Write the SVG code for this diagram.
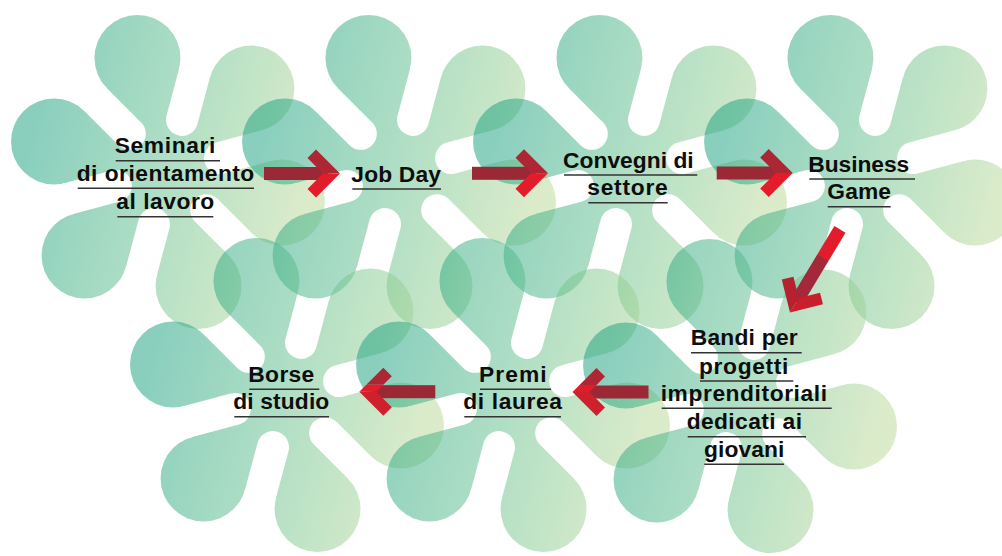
<svg xmlns="http://www.w3.org/2000/svg" width="1002" height="556" viewBox="0 0 1002 556">
<style>
.lbl{font-family:"Liberation Sans",Arial,sans-serif;font-weight:700;font-size:22.8px;fill:#0d0d0d;}
.ul{stroke:#333;stroke-width:1.4;fill:none;}
.petals{fill:url(#fg);fill-opacity:0.5;}
.sh{fill:#9a2935;}
.ua{fill:#ad2634;}
.br{fill:#e31c2b;}
.md{fill:#cf202e;}
</style>
<defs>
<linearGradient id="fg" x1="0" y1="0.37" x2="1" y2="0.63">
<stop offset="0.08" stop-color="#159f7d"/>
<stop offset="0.5" stop-color="#63bf8b"/>
<stop offset="0.92" stop-color="#b7d895"/>
</linearGradient>
<linearGradient id="diagShaft" gradientUnits="userSpaceOnUse" x1="-97" y1="0" x2="-12" y2="0">
<stop offset="0.39" stop-color="#e31c2b"/>
<stop offset="0.39" stop-color="#a3283a"/>
</linearGradient>
<mask id="fm" maskUnits="userSpaceOnUse" x="-175" y="-175" width="350" height="350">
<g fill="#fff">
<polygon points="-113.98,-30.54 -30.54,-113.98 83.44,-83.44 113.98,30.54 30.54,113.98 -83.44,83.44"/>
<circle cx="-113.98" cy="-30.54" r="43"/>
<circle cx="-30.54" cy="-113.98" r="43"/>
<circle cx="83.44" cy="-83.44" r="43"/>
<circle cx="113.98" cy="30.54" r="43"/>
<circle cx="30.54" cy="113.98" r="43"/>
<circle cx="-83.44" cy="83.44" r="43"/>
</g>
<g stroke="#000" stroke-width="32" stroke-linecap="round">
<line x1="-38.18" y1="-38.18" x2="-141.4" y2="-141.4"/>
<line x1="13.98" y1="-52.16" x2="51.76" y2="-193.2"/>
<line x1="52.16" y1="-13.98" x2="193.2" y2="-51.76"/>
<line x1="38.18" y1="38.18" x2="141.4" y2="141.4"/>
<line x1="-13.98" y1="52.16" x2="-51.76" y2="193.2"/>
<line x1="-52.16" y1="13.98" x2="-193.2" y2="51.76"/>
</g>
</mask>
</defs>
<rect width="1002" height="556" fill="#fff"/>
<g id="background">
<g transform="translate(168,172)"><rect class="petals" x="-162" y="-162" width="324" height="324" mask="url(#fm)"/></g>
<g transform="translate(399,172)"><rect class="petals" x="-162" y="-162" width="324" height="324" mask="url(#fm)"/></g>
<g transform="translate(630,172)"><rect class="petals" x="-162" y="-162" width="324" height="324" mask="url(#fm)"/></g>
<g transform="translate(861,172)"><rect class="petals" x="-162" y="-162" width="324" height="324" mask="url(#fm)"/></g>
<g transform="translate(287,395)"><rect class="petals" x="-162" y="-162" width="324" height="324" mask="url(#fm)"/></g>
<g transform="translate(513,395)"><rect class="petals" x="-162" y="-162" width="324" height="324" mask="url(#fm)"/></g>
<g transform="translate(740,396)"><rect class="petals" x="-162" y="-162" width="324" height="324" mask="url(#fm)"/></g>
</g>
<g id="connectors">
<g id="arrow-seminari-jobday" transform="translate(340,173.5)">
<rect class="sh" x="-76" y="-6.5" width="64" height="13"/>
<polygon class="ua" points="0,0 -24,-24 -32.5,-15.5 -17,0"/>
<polygon class="br" points="0,0 -17,0 -32.5,15.5 -24,24"/>
</g>
<g id="arrow-jobday-convegni" transform="translate(548,173.3)">
<rect class="sh" x="-76" y="-6.5" width="64" height="13"/>
<polygon class="ua" points="0,0 -24,-24 -32.5,-15.5 -17,0"/>
<polygon class="br" points="0,0 -17,0 -32.5,15.5 -24,24"/>
</g>
<g id="arrow-convegni-business" transform="translate(792.7,173)">
<rect class="sh" x="-76" y="-6.5" width="64" height="13"/>
<polygon class="ua" points="0,0 -24,-24 -32.5,-15.5 -17,0"/>
<polygon class="br" points="0,0 -17,0 -32.5,15.5 -24,24"/>
</g>
<g id="arrow-business-bandi" transform="translate(790,312.5) rotate(121)">
<rect x="-97" y="-6.5" width="85" height="13" fill="url(#diagShaft)"/>
<polygon fill="#c91f2d" points="0,0 -24,-24 -32.5,-15.5 -17,0"/>
<polygon fill="#b5212f" points="0,0 -17,0 -32.5,15.5 -24,24"/>
</g>
<g id="arrow-bandi-premi" transform="translate(572.5,392) scale(-1,1)">
<rect class="sh" x="-76" y="-6.5" width="64" height="13"/>
<polygon class="ua" points="-7,-7 -24,-24 -32.5,-15.5 -24,-7"/>
<polygon class="br" points="0,0 -7,-7 -24,-7 -17,0"/>
<polygon class="md" points="0,0 -17,0 -32.5,15.5 -24,24"/>
</g>
<g id="arrow-premi-borse" transform="translate(359.3,391.7) scale(-1,1)">
<rect class="sh" x="-76" y="-6.5" width="64" height="13"/>
<polygon class="ua" points="-7,-7 -24,-24 -32.5,-15.5 -24,-7"/>
<polygon class="br" points="0,0 -7,-7 -24,-7 -17,0"/>
<polygon class="md" points="0,0 -17,0 -32.5,15.5 -24,24"/>
</g>
</g>
<g id="node-seminari">
<text class="lbl" x="114.7" y="153.3" textLength="100.6" lengthAdjust="spacing">Seminari</text>
<text class="lbl" x="76.7" y="180.9" textLength="177.6" lengthAdjust="spacing">di orientamento</text>
<text class="lbl" x="116.3" y="209.3" textLength="98" lengthAdjust="spacing">al lavoro</text>
<line class="ul" x1="115.7" y1="160.7" x2="220" y2="160.7"/>
<line class="ul" x1="77.7" y1="188.3" x2="254" y2="188.3"/>
<line class="ul" x1="117.3" y1="216.7" x2="213.3" y2="216.7"/>
</g>
<g id="node-jobday">
<text class="lbl" x="351.3" y="181.6" textLength="89.7" lengthAdjust="spacing">Job Day</text>
<line class="ul" x1="352.3" y1="189" x2="441" y2="189"/>
</g>
<g id="node-convegni">
<text class="lbl" x="563" y="167.6" textLength="130.7" lengthAdjust="spacing">Convegni di</text>
<text class="lbl" x="587.3" y="195.3" textLength="80.4" lengthAdjust="spacing">settore</text>
<line class="ul" x1="564" y1="175" x2="697.3" y2="175"/>
<line class="ul" x1="588.3" y1="202.7" x2="667.7" y2="202.7"/>
</g>
<g id="node-business">
<text class="lbl" x="808.3" y="171.6" textLength="101" lengthAdjust="spacing">Business</text>
<text class="lbl" x="827.3" y="199.3" textLength="63.7" lengthAdjust="spacing">Game</text>
<line class="ul" x1="809.3" y1="179" x2="915" y2="179"/>
<line class="ul" x1="827.7" y1="206.7" x2="890.7" y2="206.7"/>
</g>
<g id="node-bandi">
<text class="lbl" x="690.7" y="345.3" textLength="107" lengthAdjust="spacing">Bandi per</text>
<text class="lbl" x="699" y="373.6" textLength="89.3" lengthAdjust="spacing">progetti</text>
<text class="lbl" x="660.7" y="400.9" textLength="166.3" lengthAdjust="spacing">imprenditoriali</text>
<text class="lbl" x="686.7" y="429.3" textLength="115.3" lengthAdjust="spacing">dedicati ai</text>
<text class="lbl" x="704" y="456.9" textLength="80.3" lengthAdjust="spacing">giovani</text>
<line class="ul" x1="691" y1="352.7" x2="801.7" y2="352.7"/>
<line class="ul" x1="700" y1="381" x2="793.3" y2="381"/>
<line class="ul" x1="661.7" y1="408.3" x2="831.7" y2="408.3"/>
<line class="ul" x1="687.7" y1="436.7" x2="806" y2="436.7"/>
<line class="ul" x1="704.3" y1="464.3" x2="784" y2="464.3"/>
</g>
<g id="node-premi">
<text class="lbl" x="479" y="381.9" textLength="67.7" lengthAdjust="spacing">Premi</text>
<text class="lbl" x="463.3" y="409.3" textLength="98.7" lengthAdjust="spacing">di laurea</text>
<line class="ul" x1="480" y1="389.3" x2="551" y2="389.3"/>
<line class="ul" x1="464.3" y1="416.7" x2="561" y2="416.7"/>
</g>
<g id="node-borse">
<text class="lbl" x="248.3" y="381.9" textLength="66" lengthAdjust="spacing">Borse</text>
<text class="lbl" x="233.3" y="409.3" textLength="96" lengthAdjust="spacing">di studio</text>
<line class="ul" x1="249.3" y1="389.3" x2="319.3" y2="389.3"/>
<line class="ul" x1="234.3" y1="416.7" x2="329" y2="416.7"/>
</g>
</svg>
